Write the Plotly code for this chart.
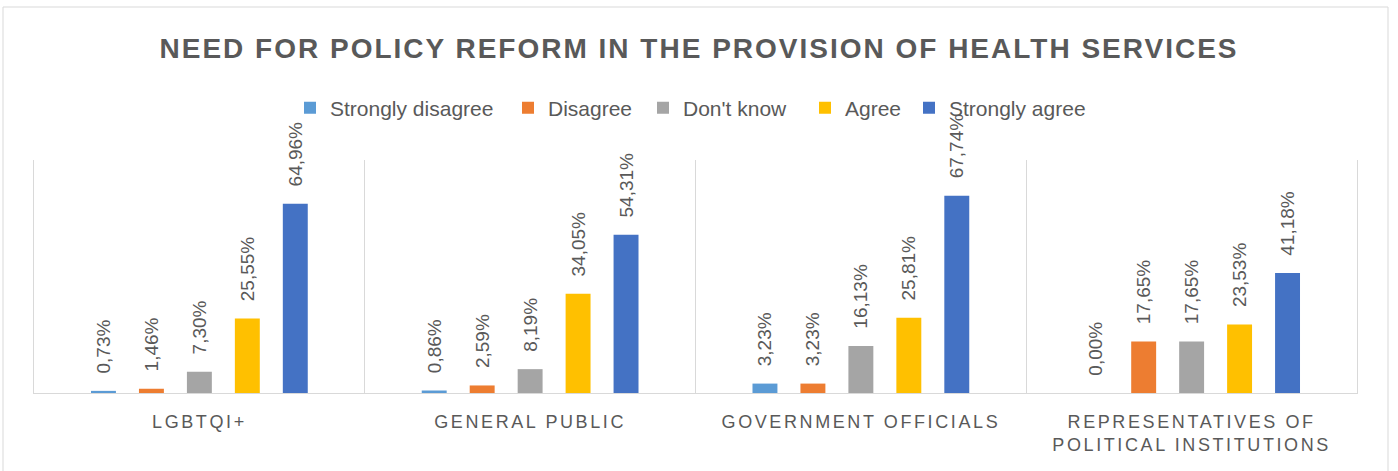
import plotly.graph_objects as go

categories = ["LGBTQI+", "GENERAL PUBLIC", "GOVERNMENT OFFICIALS", "REPRESENTATIVES OF POLITICAL INSTITUTIONS"]
tick_labels = ["LGBTQI+", "GENERAL PUBLIC", "GOVERNMENT OFFICIALS", "REPRESENTATIVES OF<br>POLITICAL INSTITUTIONS"]
series_names = ["Strongly disagree", "Disagree", "Don't know", "Agree", "Strongly agree"]
strongly_disagree = [0.73, 0.86, 3.23, 0.00]
disagree = [1.46, 2.59, 3.23, 17.65]
dont_know = [7.30, 8.19, 16.13, 17.65]
agree = [25.55, 34.05, 25.81, 23.53]
strongly_agree = [64.96, 54.31, 67.74, 41.18]
series_values = [strongly_disagree, disagree, dont_know, agree, strongly_agree]
colors = ["#5B9BD5", "#ED7D31", "#A5A5A5", "#FFC000", "#4472C4"]

FONT = "Liberation Sans, Arial, sans-serif"
GRAY = "#595959"
LINE = "#D9D9D9"

# layout geometry (pixels)
W, H = 1398, 471
ML, MR, MT, MB = 34, 41, 160, 78
PW, PH = W - ML - MR, H - MT - MB
legend_text_px = [330, 548, 683, 845, 949]  # where each legend label starts
legend_y_px = 108

def fmt(v):
    return "\u00a0\u00a0\u2009" + f"{v:.2f}".replace(".", ",") + "%"

legend_ids = ["legend", "legend2", "legend3", "legend4", "legend5"]

fig = go.Figure()
for name, vals, col, lg in zip(series_names, series_values, colors, legend_ids):
    fig.add_trace(go.Bar(
        name=name, x=categories, y=vals,
        marker=dict(color=col, line=dict(width=0)),
        text=[fmt(v) for v in vals],
        textposition="outside", textangle=-90, constraintext="none",
        textfont=dict(family=FONT, size=19, color=GRAY),
        cliponaxis=False, legend=lg, showlegend=True,
    ))

ticktext = [f'<span style="letter-spacing:2.6px">{t}</span>' for t in tick_labels]

legend_layout = {}
for lg, tx in zip(legend_ids, legend_text_px):
    legend_layout[lg] = dict(
        orientation="h", x=(tx - 40 - ML) / PW, xanchor="left",
        y=(H - MB - legend_y_px) / PH, yanchor="middle",
        font=dict(family=FONT, size=21, color=GRAY), bgcolor="rgba(0,0,0,0)",
        itemwidth=30, borderwidth=0, visible=True,
    )

fig.update_layout(
    width=W, height=H, showlegend=True,
    margin=dict(l=ML, r=MR, t=MT, b=MB),
    paper_bgcolor="white", plot_bgcolor="white",
    barmode="group", bargap=0.275, bargroupgap=0.48,
    title=dict(
        text='<span style="letter-spacing:2px"><b>NEED FOR POLICY REFORM IN THE PROVISION OF HEALTH SERVICES</b></span>',
        x=0.5, xanchor="center", y=1 - 48 / H, yanchor="middle",
        font=dict(family=FONT, size=28, color=GRAY),
    ),
    xaxis=dict(
        type="category", tickmode="array", tickvals=categories, ticktext=ticktext,
        tickson="boundaries", showgrid=True, gridcolor=LINE, gridwidth=1,
        showline=True, linecolor=LINE, linewidth=1, ticks="",
        tickfont=dict(family=FONT, size=18, color=GRAY), ticklabelstandoff=12,
        fixedrange=True,
    ),
    yaxis=dict(
        range=[0, 80], showgrid=False, zeroline=False, showticklabels=False,
        showline=True, linecolor=LINE, linewidth=1, mirror=True, ticks="",
    ),
    shapes=[dict(
        type="rect", xref="paper", yref="paper",
        x0=(3 - ML) / PW, x1=(1388 - ML) / PW,
        y0=(H - MB - 490) / PH, y1=(H - MB - 7) / PH,
        line=dict(color=LINE, width=1), fillcolor="rgba(0,0,0,0)", layer="below",
    )],
    **legend_layout,
)

fig.write_html("out.html")
